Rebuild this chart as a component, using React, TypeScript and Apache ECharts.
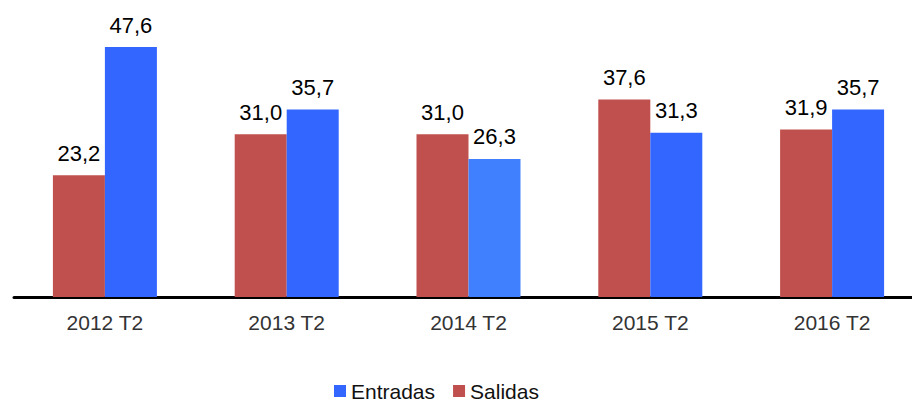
import React, { useEffect, useRef } from "react";
import * as echarts from "echarts";

const categories = ["2012 T2", "2013 T2", "2014 T2", "2015 T2", "2016 T2"];
const salidas = [23.2, 31.0, 31.0, 37.6, 31.9];
const entradas = [47.6, 35.7, 26.3, 31.3, 35.7];
const highlightIndex = 2;

const RED = "#C0504D";
const BLUE = "#3366FF";
const LIGHT_BLUE = "#4080FF";

const fmt = (v: number) => v.toFixed(1).replace(".", ",");

export default function App() {
  const ref = useRef<HTMLDivElement>(null);
  useEffect(() => {
    if (!ref.current) return;
    const chart = echarts.init(ref.current, undefined, { renderer: "svg" });
    const labelStyle = {
      show: true,
      position: "top" as const,
      distance: 11,
      fontSize: 22,
      color: "#000",
      fontFamily: "Liberation Sans, Arial, sans-serif",
      formatter: (p: any) => fmt(p.value),
    };
    chart.setOption({
      animation: false,
      backgroundColor: "#fff",
      textStyle: { fontFamily: "Liberation Sans, Arial, sans-serif" },
      grid: { left: 14, top: 34.5, width: 909, height: 262.5, containLabel: false },
      legend: {
        left: 332,
        top: 377,
        padding: 2,
        itemWidth: 12,
        itemHeight: 12,
        itemGap: 18,
        icon: "rect",
        textStyle: { fontSize: 21, lineHeight: 24, color: "#111" },
        data: ["Entradas", "Salidas"],
      },
      xAxis: {
        type: "category",
        data: categories,
        axisLine: { show: true, lineStyle: { color: "#000", width: 3 } },
        axisTick: { show: false },
        axisLabel: { fontSize: 21, color: "#333", margin: 15 },
      },
      yAxis: {
        type: "value",
        min: 0,
        max: 50,
        show: false,
        splitLine: { show: false },
      },
      series: [
        {
          name: "Salidas",
          type: "bar",
          barWidth: 52,
          barGap: "0%",
          itemStyle: { color: RED },
          label: labelStyle,
          data: salidas,
        },
        {
          name: "Entradas",
          type: "bar",
          barWidth: 52,
          barGap: "0%",
          itemStyle: { color: BLUE },
          label: labelStyle,
          data: entradas.map((v, i) =>
            i === highlightIndex ? { value: v, itemStyle: { color: LIGHT_BLUE } } : v
          ),
        },
      ],
    });
    return () => chart.dispose();
  }, []);
  return (
    <div
      style={{
        position: "absolute",
        left: 0,
        top: 0,
        width: 912,
        height: 405,
        overflow: "hidden",
        background: "#fff",
      }}
    >
      <div ref={ref} style={{ width: 930, height: 405 }} />
    </div>
  );
}
